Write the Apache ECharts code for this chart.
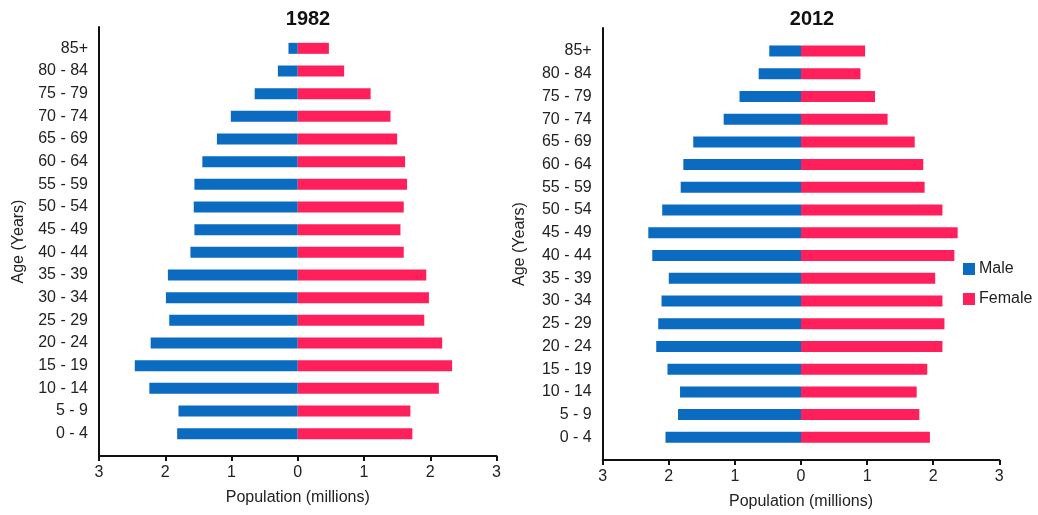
<!DOCTYPE html>
<html>
<head>
<meta charset="utf-8">
<script src="https://cdn.jsdelivr.net/npm/echarts@6/dist/echarts.min.js"></script>
<style>html,body{margin:0;padding:0;background:#fff}#c{width:1038px;height:515px}</style>
</head>
<body>
<div id="c"></div>
<script>
// Age groups, bottom to top
var ageGroups = ['0 - 4','5 - 9','10 - 14','15 - 19','20 - 24','25 - 29','30 - 34','35 - 39','40 - 44','45 - 49','50 - 54','55 - 59','60 - 64','65 - 69','70 - 74','75 - 79','80 - 84','85+'];
// Population in millions (bottom to top)
var male1982   = [1.82,1.80,2.24,2.46,2.22,1.94,1.99,1.96,1.62,1.56,1.57,1.56,1.44,1.22,1.01,0.65,0.30,0.14];
var female1982 = [1.73,1.70,2.13,2.33,2.18,1.91,1.98,1.94,1.60,1.55,1.60,1.65,1.62,1.50,1.40,1.10,0.70,0.47];
var male2012   = [2.05,1.86,1.83,2.02,2.19,2.16,2.11,2.00,2.25,2.31,2.10,1.82,1.78,1.63,1.17,0.93,0.64,0.48];
var female2012 = [1.95,1.79,1.75,1.91,2.14,2.17,2.14,2.03,2.32,2.37,2.14,1.87,1.85,1.72,1.31,1.12,0.90,0.97];
var xTicks = [-3,-2,-1,0,1,2,3];

var BLUE = '#0a6bc1', PINK = '#ff1f5b', INK = '#222';
var font = 'Liberation Sans, Arial, sans-serif';

function neg(a){ return a.map(function(v){ return -v; }); }

var chart = echarts.init(document.getElementById('c'), null, {renderer:'canvas'});

function frameX(gi){
  return {
    gridIndex: gi, type:'value', min: xTicks[0], max: xTicks[xTicks.length-1], interval: 1,
    axisLine:{show:true, lineStyle:{color:'#111', width:2}},
    axisTick:{show:true, length:5, inside:false, lineStyle:{color:'#111', width:2}},
    axisLabel:{color:INK, fontSize:16, fontFamily:font, margin:9, formatter:function(v){return Math.abs(v);}},
    splitLine:{show:false},
    name:'Population (millions)', nameLocation:'middle', nameGap:34,
    nameTextStyle:{color:INK, fontSize:16, fontFamily:font}
  };
}
function dataX(gi){
  return { gridIndex: gi, type:'value', min: xTicks[0], max: xTicks[xTicks.length-1], interval:1, show:false };
}
function frameY(gi, gap){
  return {
    gridIndex: gi, type:'value', min:0, max:1,
    axisLine:{show:true, onZero:false, lineStyle:{color:'#111', width:2}},
    axisTick:{show:false}, axisLabel:{show:false}, splitLine:{show:false},
    name:'Age (Years)', nameLocation:'middle', nameGap:gap, nameRotate:90,
    nameTextStyle:{color:INK, fontSize:16, fontFamily:font}
  };
}
function dataY(gi){
  return {
    gridIndex: gi, type:'category', data: ageGroups,
    axisLine:{show:false}, axisTick:{show:false}, splitLine:{show:false},
    axisLabel:{color:INK, fontSize:16, fontFamily:font, margin:11}
  };
}

var option = {
  animation:false,
  backgroundColor:'#fff',
  title:[
    {text:'1982', left:303, top:4, textAlign:'center', textStyle:{fontSize:20, fontWeight:'bold', color:'#111', fontFamily:font}},
    {text:'2012', left:807, top:4, textAlign:'center', textStyle:{fontSize:20, fontWeight:'bold', color:'#111', fontFamily:font}}
  ],
  legend:{
    orient:'vertical', left:958, top:256, itemWidth:12, itemHeight:12, itemGap:14,
    icon:'rect', data:['Male','Female'],
    textStyle:{color:INK, fontSize:16, fontFamily:font, padding:[0,0,0,-1]}
  },
  grid:[
    {left:99, right:1038-496.5, top:27, bottom:515-456},
    {left:99, right:1038-496.5, top:37, bottom:515-445},
    {left:602.7, right:1038-999.3, top:28, bottom:515-460},
    {left:602.7, right:1038-999.3, top:39.6, bottom:515-448.7}
  ],
  xAxis:[frameX(0), dataX(1), frameX(2), dataX(3)],
  yAxis:[frameY(0,72), dataY(1), frameY(2,75), dataY(3)],
  series:[
    {name:'Male', type:'bar', xAxisIndex:1, yAxisIndex:1, stack:'a', barWidth:11, data:neg(male1982), itemStyle:{color:BLUE}},
    {name:'Female', type:'bar', xAxisIndex:1, yAxisIndex:1, stack:'a', barWidth:11, data:female1982, itemStyle:{color:PINK}},
    {name:'Male', type:'bar', xAxisIndex:3, yAxisIndex:3, stack:'b', barWidth:11, data:neg(male2012), itemStyle:{color:BLUE}},
    {name:'Female', type:'bar', xAxisIndex:3, yAxisIndex:3, stack:'b', barWidth:11, data:female2012, itemStyle:{color:PINK}}
  ]
};
chart.setOption(option);
</script>
</body>
</html>
